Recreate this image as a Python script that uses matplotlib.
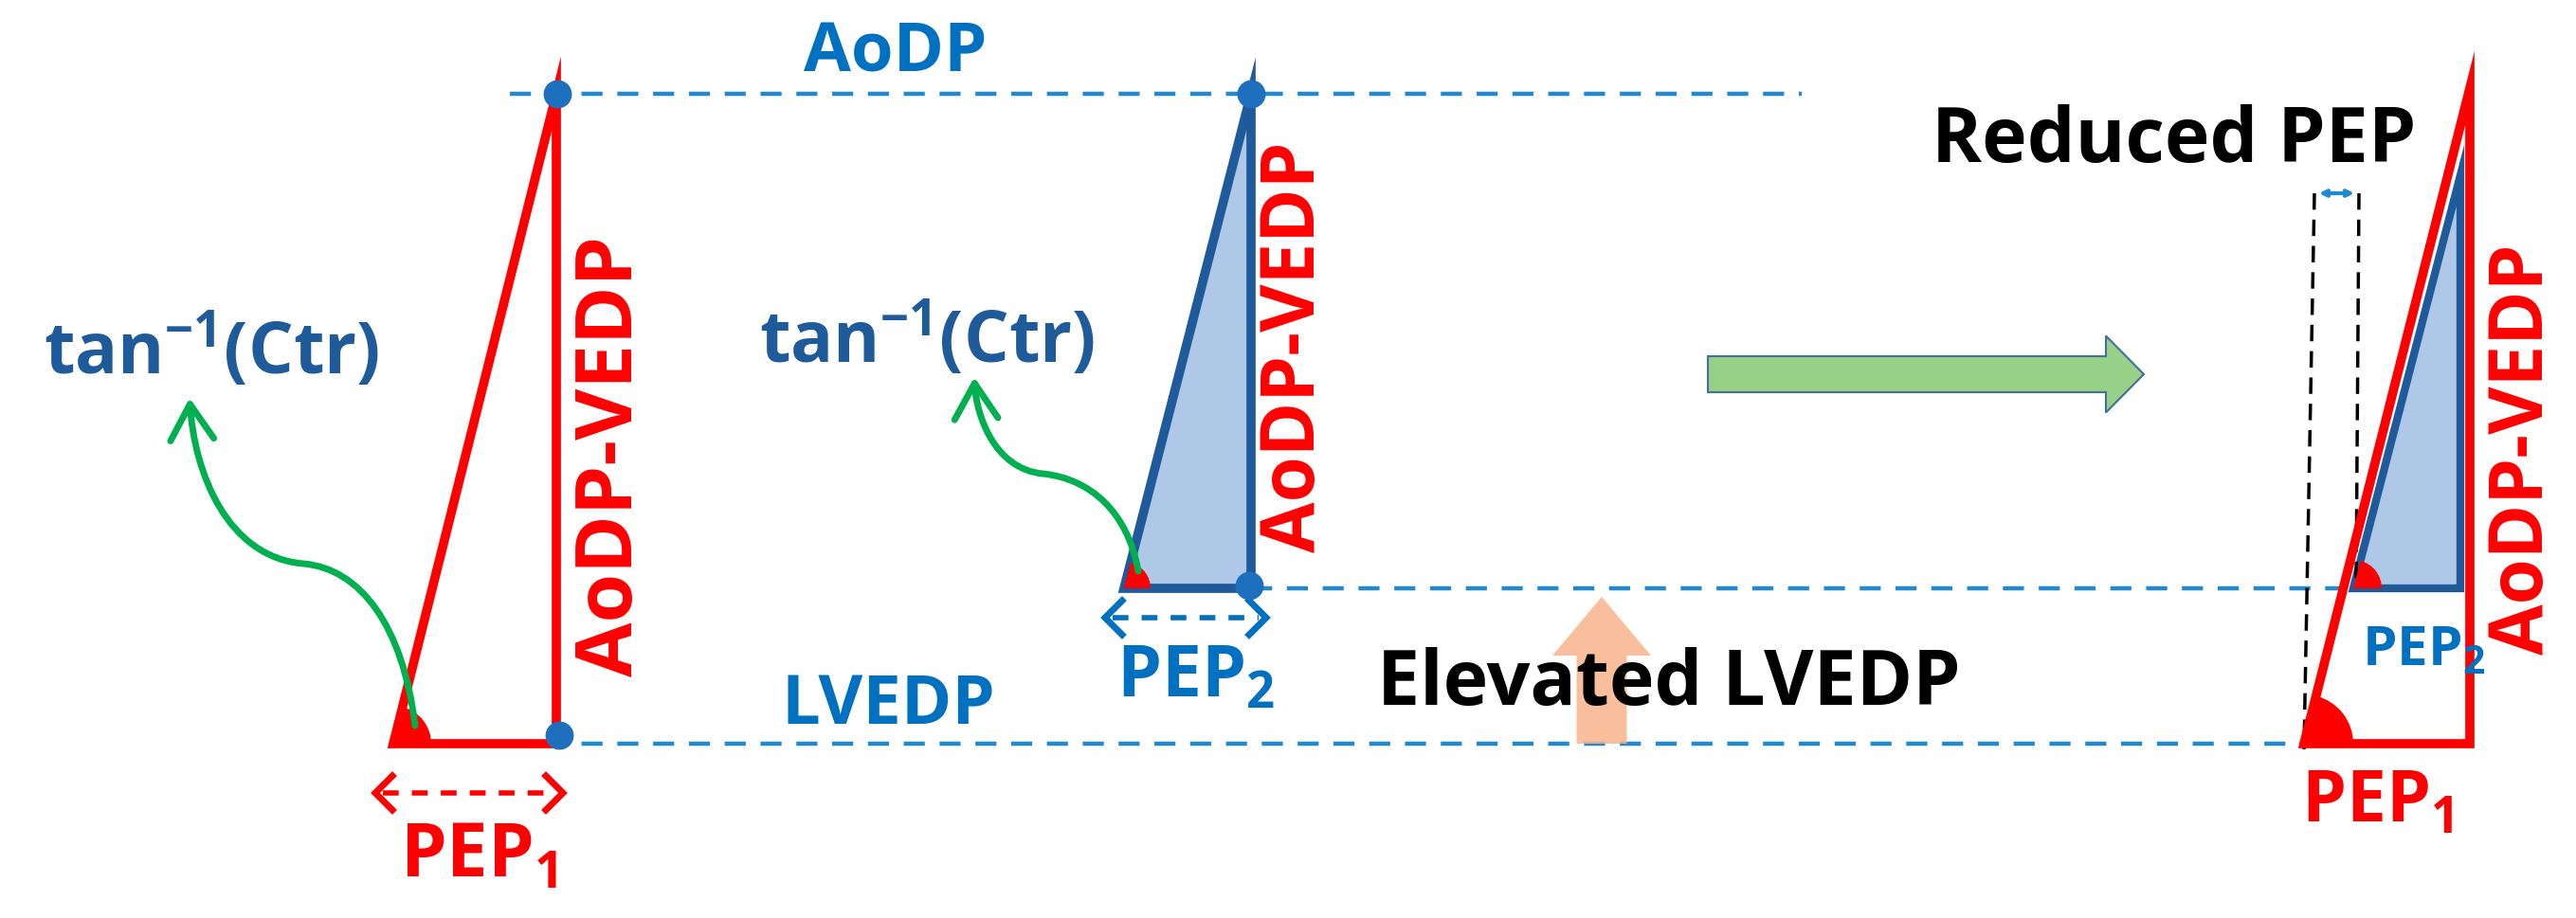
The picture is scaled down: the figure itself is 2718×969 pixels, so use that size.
import numpy as np
import matplotlib
matplotlib.use("Agg")
import matplotlib.pyplot as plt
from matplotlib.patches import Polygon, Wedge, FancyArrow, FancyArrowPatch
from matplotlib.path import Path

FONT = ["Open Sans", "DejaVu Sans"]
plt.rcParams["font.family"] = FONT
plt.rcParams["mathtext.fontset"] = "custom"
plt.rcParams["mathtext.rm"] = "Open Sans:bold"
plt.rcParams["mathtext.it"] = "Open Sans:bold"
plt.rcParams["mathtext.bf"] = "Open Sans:bold"

# 颜色
RED = "#FF0000"
BLUE = "#0070C0"
DARK_BLUE = "#1F5A9A"
DASH_BLUE = "#1E8AD6"
FILL_BLUE = "#AFC8E8"
GREEN = "#00B050"

# ===== 图形几何（像素坐标，y 向下） =====
y_aodp = 99
y_lvedp = 785
y_elev = 621

# 左侧红三角：左下角、顶点x
tri1 = [(415, y_lvedp), (587, y_aodp), (587, y_lvedp)]
# 中间蓝三角
tri2 = [(1186, y_elev), (1320, y_aodp), (1320, y_elev)]
# 右侧红三角 + 内部蓝三角
tri3_red = [(2431, y_lvedp), (2606, 93), (2606, y_lvedp)]
tri3_blue = [(2483, y_elev), (2596, 185), (2596, y_elev)]

dots = [(588, y_aodp), (1320, y_aodp), (590, 776), (1318, 618)]

# 虚线：(x0, x1, y)
dash_lines = [(538, 1901, y_aodp), (538, 2595, y_lvedp), (1320, 2490, y_elev)]

# 绿色弯箭头（三次贝塞尔控制点）
curve1 = [(438, 766), (425, 660), (380, 600), (320, 595),
          (240, 588), (205, 500), (200, 420)]
curve2 = [(1201, 603), (1190, 540), (1150, 505), (1100, 500),
          (1050, 495), (1030, 440), (1028, 398)]


def wedge_at(ax, corner, apex, r, color=RED):
    dx = apex[0] - corner[0]
    dy = apex[1] - corner[1]
    ang = np.degrees(np.arctan2(dy, dx))
    ax.add_patch(Wedge(corner, r, ang, 0, fc=color, ec="none", zorder=4))


def dashed_double_arrow(ax, x0, x1, y, color, lw=4, head=18):
    ax.plot([x0 + 8, x1 - 8], [y, y], color=color, lw=lw, ls=(0, (3, 2.5)), zorder=3)
    for xe, s in [(x0, 1), (x1, -1)]:
        ax.plot([xe + s * head, xe, xe + s * head], [y - head, y, y + head],
                color=color, lw=lw + 1, solid_joinstyle="miter", zorder=3)


def main():
    fig = plt.figure(figsize=(27.18, 9.69), dpi=100)
    ax = fig.add_axes([0, 0, 1, 1])
    ax.set_xlim(0, 2718)
    ax.set_ylim(969, 0)
    ax.axis("off")

    for x0, x1, y in dash_lines:
        ax.plot([x0, x1], [y, y], color=DASH_BLUE, lw=3.2, ls=(0, (5, 3.5)), zorder=1)

    # 左三角
    ax.add_patch(Polygon(tri1, closed=True, fill=False, ec=RED, lw=7, joinstyle="miter", zorder=3))
    wedge_at(ax, tri1[0], tri1[1], 40)

    # 中三角
    ax.add_patch(Polygon(tri2, closed=True, fc=FILL_BLUE, ec=DARK_BLUE, lw=7, joinstyle="miter", zorder=3))
    wedge_at(ax, tri2[0], tri2[1], 28)

    # 右侧三角
    ax.add_patch(Polygon(tri3_blue, closed=True, fc=FILL_BLUE, ec=DARK_BLUE, lw=6, joinstyle="miter", zorder=2))
    ax.add_patch(Polygon(tri3_red, closed=True, fill=False, ec=RED, lw=7, joinstyle="miter", zorder=3))
    wedge_at(ax, tri3_blue[0], tri3_blue[1], 30)
    wedge_at(ax, tri3_red[0], tri3_red[1], 52)

    xs, ys = zip(*dots)
    ax.scatter(xs, ys, s=420, color="#1F6FBF", zorder=5)

    # 绿色弯箭头
    codes = [Path.MOVETO] + [Path.CURVE4] * 6
    for pts in (curve1, curve2):
        ax.add_patch(FancyArrowPatch(path=Path(pts, codes), arrowstyle="->,head_length=0.9,head_width=0.55",
                                     mutation_scale=30, color=GREEN, lw=5, zorder=4))

    # PEP 双向箭头
    dashed_double_arrow(ax, 396, 594, 837, RED)
    dashed_double_arrow(ax, 1166, 1336, 652, BLUE)
    ax.annotate("", xy=(2444, 204), xytext=(2487, 204),
                arrowprops=dict(arrowstyle="<->", color=DASH_BLUE, lw=3))

    # 黑色虚线竖线
    ax.plot([2442, 2431], [204, 791], color="black", lw=2.5, ls=(0, (5, 3)), zorder=2)
    ax.plot([2489, 2486], [204, 618], color="black", lw=2.5, ls=(0, (5, 3)), zorder=2)

    # 大绿箭头
    ax.add_patch(FancyArrow(1802, 395, 460, 0, width=38, head_width=81, head_length=40,
                            length_includes_head=True, fc="#97D086", ec="#41719C", lw=1.5, zorder=2))
    # 橙色上箭头
    ax.add_patch(FancyArrow(1690, 785, 0, -155, width=53, head_width=104, head_length=62,
                            length_includes_head=True, fc="#F9B38A", ec="none", alpha=0.85, zorder=1))

    # 文本
    bold = dict(fontweight="bold", ha="center", va="center")
    ax.text(945, 56, "AoDP", color=BLUE, fontsize=52, **bold)
    ax.text(937, 745, "LVEDP", color=BLUE, fontsize=52, **bold)
    ax.text(223, 370, "tan$^{-1}$(Ctr)", color=DARK_BLUE, fontsize=54, **bold)
    ax.text(978, 358, "tan$^{-1}$(Ctr)", color=DARK_BLUE, fontsize=54, **bold)
    ax.text(646, 482, "AoDP-VEDP", color=RED, fontsize=60, rotation=90, **bold)
    ax.text(1366, 366, "AoDP-VEDP", color=RED, fontsize=56, rotation=90, **bold)
    ax.text(2663, 474, "AoDP-VEDP", color=RED, fontsize=56, rotation=90, **bold)
    ax.text(505, 905, "PEP$_1$", color=RED, fontsize=56, **bold)
    ax.text(1262, 716, "PEP$_2$", color=BLUE, fontsize=54, **bold)
    ax.text(2508, 848, "PEP$_1$", color=RED, fontsize=54, **bold)
    ax.text(2557, 688, "PEP$_2$", color=BLUE, fontsize=42, **bold)
    ax.text(2294, 150, "Reduced PEP", color="black", fontsize=58, **bold)
    ax.text(1761, 723, "Elevated LVEDP", color="black", fontsize=58, zorder=3, **bold)

    fig.savefig("out.png", dpi=100)


if __name__ == "__main__":
    main()
